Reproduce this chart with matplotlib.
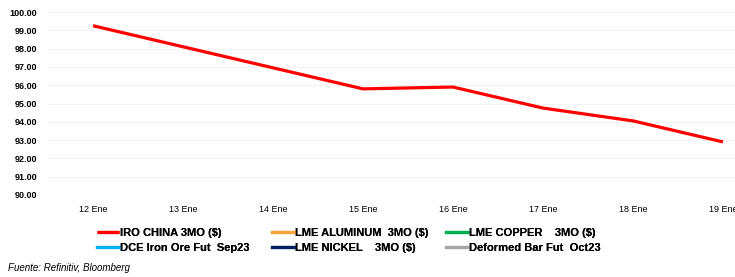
import matplotlib.pyplot as plt

# datos
dias = ["12 Ene", "13 Ene", "14 Ene", "15 Ene", "16 Ene", "17 Ene", "18 Ene", "19 Ene"]
iro_china = [99.25, 98.10, 96.95, 95.80, 95.90, 94.75, 94.05, 92.90]

series = ["IRO CHINA 3MO ($)", "LME ALUMINUM  3MO ($)", "LME COPPER    3MO ($)",
          "DCE Iron Ore Fut  Sep23", "LME NICKEL    3MO ($)", "Deformed Bar Fut  Oct23"]
colores = ["#FF0000", "#F5A33B", "#00B050", "#00B0F0", "#002060", "#A6A6A6"]
y_ticks = [90, 91, 92, 93, 94, 95, 96, 97, 98, 99, 100]

fig = plt.figure(figsize=(7.35, 2.77), dpi=100)
ax = fig.add_axes([48 / 735, 82 / 277, 720 / 735, 183 / 277])

x = list(range(len(dias)))
lines = []
for i, (nombre, c) in enumerate(zip(series, colores)):
    if i == 0:
        ln, = ax.plot(x, iro_china, color=c, lw=2.3, solid_capstyle="butt")
    else:
        ln, = ax.plot([], [], color=c, lw=2.3)
    lines.append(ln)

ax.set_xlim(-0.5, 7.5)
ax.set_ylim(90, 100)
ax.set_yticks(y_ticks)
ax.set_yticklabels(["{:.2f}".format(v) for v in y_ticks],
                   fontsize=6.5, fontweight="bold", family="Liberation Sans")
ax.set_xticks(x)
ax.set_xticklabels(dias, fontsize=6.5, family="Liberation Sans")
ax.tick_params(length=0, pad=7)
ax.tick_params(axis="y", pad=8)
ax.yaxis.grid(True, color="#F2F2F2", lw=0.7)
ax.set_axisbelow(True)
for s in ax.spines.values():
    s.set_visible(False)

# leyenda en tres columnas
col_x = [97 / 735, 272 / 735, 446 / 735]
for k in range(3):
    leg = fig.legend([lines[k], lines[k + 3]], [series[k], series[k + 3]],
                     loc="upper left", bbox_to_anchor=(col_x[k], 1 - 228 / 277),
                     frameon=False, handlelength=2.0, handletextpad=0.1,
                     labelspacing=0.45, borderaxespad=0, borderpad=0,
                     prop={"size": 8, "weight": "bold", "family": "Liberation Sans"})
    fig.add_artist(leg)

fig.text(8 / 735, 1 - 268 / 277, "Fuente: Refinitiv, Bloomberg", fontsize=7,
         style="italic", family="Liberation Sans", va="center")

fig.savefig("out.png", dpi=100)
